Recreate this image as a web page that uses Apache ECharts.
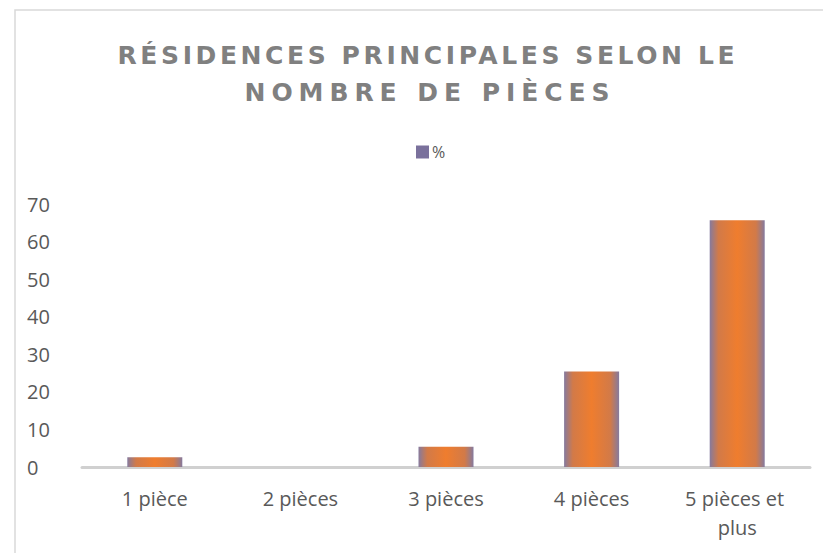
<!DOCTYPE html>
<html><head><meta charset="utf-8">
<script src="https://cdn.jsdelivr.net/npm/echarts@6/dist/echarts.min.js"></script>
<style>html,body{margin:0;padding:0;background:#fff}#c{width:823px;height:553px}</style>
</head><body><div id="c"></div>
<script>
var categories = ['1 pièce', '2 pièces', '3 pièces', '4 pièces', '5 pièces et plus'];
var values = [2.6, 0, 5.4, 25.4, 65.7];
var seriesName = '%';
var titleLines = ['RÉSIDENCES PRINCIPALES SELON LE', 'NOMBRE DE PIÈCES'];

var chart = echarts.init(document.getElementById('c'), null, {renderer: 'svg'});
var barColor = new echarts.graphic.LinearGradient(0, 0, 1, 0, [
  {offset: 0, color: '#857a9e'},
  {offset: 0.16, color: '#d27a48'},
  {offset: 0.5, color: '#ef7d2e'},
  {offset: 0.84, color: '#d27a48'},
  {offset: 1, color: '#857a9e'}
]);
var titleFontStr = "bold 25px 'DejaVu Sans'";
chart.setOption({
  animation: false,
  graphic: [{
    type: 'rect', shape: {x: 15, y: 10, width: 900, height: 700},
    style: {fill: 'none', stroke: '#d9d9d9', lineWidth: 1.5}, silent: true
  }, {
    type: 'text', x: 426, y: 55, silent: true,
    style: {text: titleLines[0], font: titleFontStr, fill: '#808080', align: 'center', verticalAlign: 'middle'}
  }, {
    type: 'text', x: 427, y: 92, silent: true,
    style: {text: titleLines[1], font: titleFontStr, fill: '#808080', align: 'center', verticalAlign: 'middle'}
  }],
  legend: {
    data: [seriesName], top: 139, left: 411,
    itemWidth: 13, itemHeight: 13, itemGap: 6,
    icon: 'rect',
    itemStyle: {color: '#7a719c'},
    textStyle: {fontFamily: 'Open Sans', fontSize: 16, color: '#595959', padding: [0, 0, 0, -2]}
  },
  grid: {left: 82, right: 13, top: 204, bottom: 86},
  xAxis: {
    type: 'category', data: categories,
    axisLine: {lineStyle: {color: '#d0d0d0', width: 3}},
    axisTick: {show: false},
    axisLabel: {
      fontFamily: 'Open Sans', fontSize: 20, color: '#595959', margin: 17, lineHeight: 29,
      width: 125, overflow: 'break', interval: 0
    }
  },
  yAxis: {
    type: 'value', min: 0, max: 70, interval: 10,
    axisLine: {show: false}, axisTick: {show: false}, splitLine: {show: false},
    axisLabel: {fontFamily: 'Open Sans', fontSize: 20, color: '#595959', align: 'left', margin: 55}
  },
  series: [{
    name: seriesName, type: 'bar', data: values, barWidth: 55,
    itemStyle: {color: barColor, borderWidth: 0}
  }]
});
// spaced heading (Office style): stretch the letter spacing of the title lines
var titleWidths = [617, 365];
document.querySelectorAll('#c text').forEach(function (t) {
  var i = titleLines.indexOf(t.textContent);
  if (i >= 0) {
    t.setAttribute('textLength', titleWidths[i]);
    t.setAttribute('lengthAdjust', 'spacing');
  }
});
</script></body></html>
